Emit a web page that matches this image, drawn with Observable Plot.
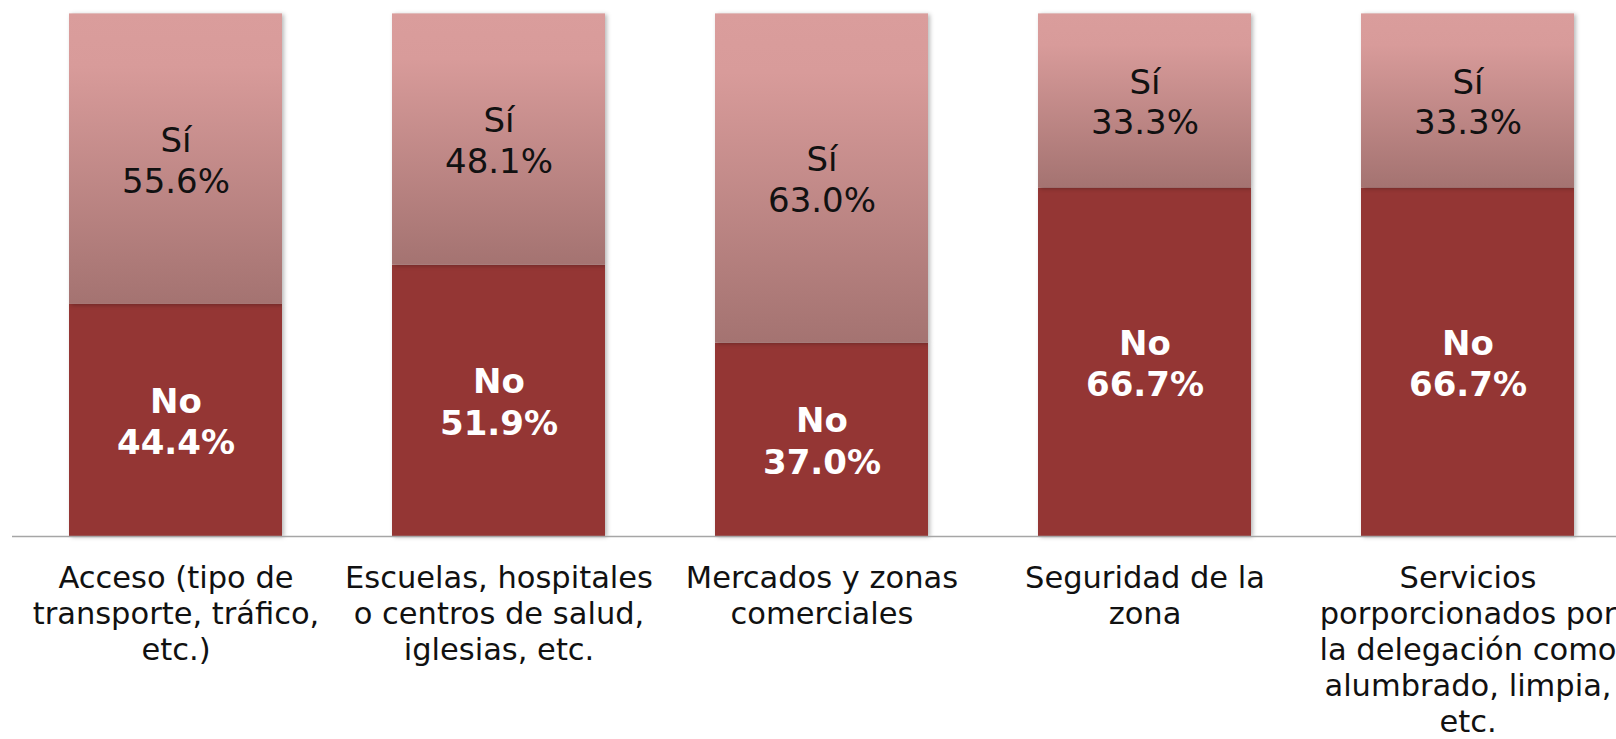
<!DOCTYPE html>
<html>
<head>
<meta charset="utf-8">
<script src="https://cdn.jsdelivr.net/npm/d3@7"></script>
<script src="https://cdn.jsdelivr.net/npm/@observablehq/plot@0.6"></script>
<style>
  html, body { margin: 0; padding: 0; background: #ffffff; overflow: hidden; }
  #chart svg { display: block; }
</style>
</head>
<body>
<div id="chart"></div>
<script>
const categories = [
  "Acceso (tipo de\ntransporte, tráfico,\netc.)",
  "Escuelas, hospitales\no centros de salud,\niglesias, etc.",
  "Mercados y zonas\ncomerciales",
  "Seguridad de la\nzona",
  "Servicios\nporporcionados por\nla delegación como\nalumbrado, limpia,\netc."
];
const noValues = [44.4, 51.9, 37.0, 66.7, 66.7];
const siValues = [55.6, 48.1, 63.0, 33.3, 33.3];

const rows = categories.map((c, i) => ({cat: c, no: noValues[i], si: siValues[i]}));

const W = 1616, H = 739;

const plot = Plot.plot({
  width: W,
  height: H,
  marginTop: 13.4,
  marginBottom: H - 536,
  marginLeft: 12,
  marginRight: 0,
  style: {fontFamily: "DejaVu Sans, Verdana, sans-serif", background: "transparent"},
  x: {type: "band", domain: categories, range: [68, 1574.7], paddingInner: 0.3414, paddingOuter: 0, axis: null},
  y: {domain: [0, 100], axis: null},
  marks: [
    Plot.barY(rows, {x: "cat", y1: 0, y2: "no", fill: "#943634"}),
    Plot.barY(rows, {x: "cat", y1: "no", y2: d => d.no + d.si, fill: "url(#siGrad)"}),
    Plot.ruleY([0], {stroke: "#a6a6a6", strokeWidth: 1.5}),
    Plot.text(rows, {x: "cat", y: d => d.no / 2, text: d => `No\n${d.no.toFixed(1)}%`,
      fill: "white", fontWeight: "bold", fontSize: 34, lineHeight: 1.22}),
    Plot.text(rows, {x: "cat", y: d => d.no + d.si / 2, text: d => `Sí\n${d.si.toFixed(1)}%`,
      fill: "#111111", fontSize: 34, lineHeight: 1.2}),
    Plot.text(categories, {x: d => d, frameAnchor: "bottom", lineAnchor: "top", dy: 26,
      fontSize: 30.5, lineHeight: 1.18, fill: "#111111"})
  ]
});

// gradient definition for the "Sí" segments
const ns = "http://www.w3.org/2000/svg";
const defs = document.createElementNS(ns, "defs");
defs.innerHTML = `
  <linearGradient id="siGrad" x1="0" y1="0" x2="0" y2="1">
    <stop offset="0" stop-color="#da9d9c"/>
    <stop offset="0.18" stop-color="#d89b9a"/>
    <stop offset="1" stop-color="#a47371"/>
  </linearGradient>`;
plot.insertBefore(defs, plot.firstChild);
plot.querySelectorAll('g[aria-label="bar"]').forEach(g => {
  g.style.filter = "drop-shadow(2px 1px 2px rgba(0,0,0,0.28))";
});

document.getElementById("chart").appendChild(plot);
</script>
</body>
</html>
